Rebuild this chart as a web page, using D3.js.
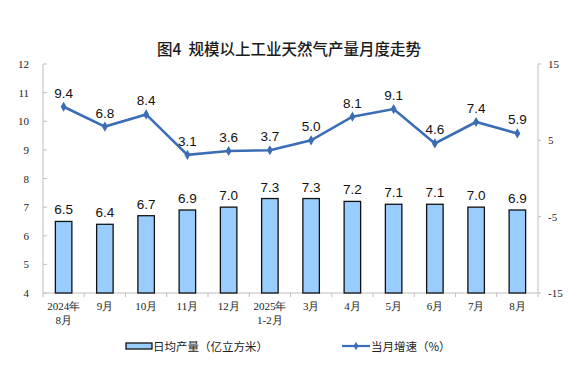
<!DOCTYPE html>
<html><head><meta charset="utf-8">
<script src="https://cdn.jsdelivr.net/npm/d3@7"></script>
<style>body{margin:0;background:#fff}svg{display:block}</style>
</head><body>
<svg id="c" width="579" height="369"></svg>
<script>
const categories = [["2024年","8月"],["9月"],["10月"],["11月"],["12月"],["2025年","1-2月"],["3月"],["4月"],["5月"],["6月"],["7月"],["8月"]];
const dailyOutput = [6.5, 6.4, 6.7, 6.9, 7.0, 7.3, 7.3, 7.2, 7.1, 7.1, 7.0, 6.9];
const growth = [9.4, 6.8, 8.4, 3.1, 3.6, 3.7, 5.0, 8.1, 9.1, 4.6, 7.4, 5.9];
const leftTicks = [4,5,6,7,8,9,10,11,12];
const rightTicks = [-15,-5,5,15];
const title = "图4  规模以上工业天然气产量月度走势";
const legendBar = "日均产量（亿立方米）";
const legendLine = "当月增速（%）";

const svg = d3.select("#c");
const L = 43, R = 538, T = 64, B = 293;
const x = d3.scaleBand().domain(d3.range(categories.length)).range([L, R]);
const yL = d3.scaleLinear().domain([4, 12]).range([B, T]);
const yR = d3.scaleLinear().domain([-15, 15]).range([B, T]);
const axisColor = "#bfbfbf";
const serif = "'Liberation Serif','DejaVu Serif',serif";
const sans = "'Liberation Sans',Arial,'Noto Sans CJK SC',sans-serif";
const cjk = "'Noto Sans CJK SC',sans-serif";

svg.append("text").attr("x", 289).attr("y", 55).attr("text-anchor", "middle")
  .style("white-space", "pre")
  .attr("font-family", cjk).attr("font-size", 15.5).attr("font-weight", 500).attr("fill", "#1a1a1a").text(title);

// axes lines
svg.append("line").attr("x1", L).attr("x2", L).attr("y1", T).attr("y2", B).attr("stroke", axisColor);
svg.append("line").attr("x1", R).attr("x2", R).attr("y1", T).attr("y2", B).attr("stroke", axisColor);
svg.append("line").attr("x1", L).attr("x2", R).attr("y1", B).attr("y2", B).attr("stroke", axisColor);

// left ticks
leftTicks.forEach(v => {
  svg.append("line").attr("x1", L).attr("x2", L + 4).attr("y1", yL(v)).attr("y2", yL(v)).attr("stroke", axisColor);
  svg.append("text").attr("x", 29).attr("y", yL(v) + 4).attr("text-anchor", "end")
    .attr("font-family", serif).attr("font-size", 11).attr("fill", "#222").text(v);
});
rightTicks.forEach(v => {
  svg.append("line").attr("x1", R).attr("x2", R + 3).attr("y1", yR(v)).attr("y2", yR(v)).attr("stroke", axisColor);
  svg.append("text").attr("x", 548).attr("y", yR(v) + 4).attr("text-anchor", "start")
    .attr("font-family", serif).attr("font-size", 11).attr("fill", "#222").text(v);
});
// category boundary ticks
d3.range(categories.length + 1).forEach(i => {
  const xx = L + i * x.step();
  svg.append("line").attr("x1", xx).attr("x2", xx).attr("y1", B).attr("y2", B + 4).attr("stroke", axisColor);
});
categories.forEach((c, i) => {
  const t = svg.append("text").attr("text-anchor", "middle").attr("font-family", serif)
    .attr("font-size", 11).attr("fill", "#222");
  c.forEach((s, j) => t.append("tspan").attr("x", x(i) + x.bandwidth() / 2).attr("y", 310 + j * 13.5).text(s));
});

// bars
const bw = x.bandwidth() * 0.4;
svg.selectAll("rect.bar").data(dailyOutput).enter().append("rect").attr("class", "bar")
  .attr("x", (d, i) => x(i) + (x.bandwidth() - bw) / 2).attr("width", bw)
  .attr("y", d => yL(d)).attr("height", d => B - yL(d))
  .attr("fill", "#99ccff").attr("stroke", "#111").attr("stroke-width", 1.3);
svg.selectAll("text.bl").data(dailyOutput).enter().append("text").attr("class", "bl")
  .attr("x", (d, i) => x(i) + x.bandwidth() / 2).attr("y", d => yL(d) - 7)
  .attr("text-anchor", "middle").attr("font-family", sans).attr("font-size", 13.5).attr("fill", "#111")
  .text(d => d.toFixed(1));

// line
const lineColor = "#3a6db5";
const line = d3.line().x((d, i) => x(i) + x.bandwidth() / 2).y(d => yR(d));
svg.append("path").datum(growth).attr("d", line).attr("fill", "none").attr("stroke", lineColor).attr("stroke-width", 2.6);
svg.selectAll("path.pt").data(growth).enter().append("path").attr("class", "pt")
  .attr("transform", (d, i) => `translate(${x(i) + x.bandwidth() / 2},${yR(d)})`)
  .attr("d", d3.symbol(d3.symbolDiamond, 30)).attr("fill", lineColor);
svg.selectAll("text.ll").data(growth).enter().append("text").attr("class", "ll")
  .attr("x", (d, i) => x(i) + x.bandwidth() / 2).attr("y", d => yR(d) - 9)
  .attr("text-anchor", "middle").attr("font-family", sans).attr("font-size", 13.5).attr("fill", "#111")
  .text(d => d.toFixed(1));

// legend
svg.append("rect").attr("x", 126).attr("y", 343).attr("width", 26).attr("height", 6)
  .attr("fill", "#99ccff").attr("stroke", "#111").attr("stroke-width", 1.3);
svg.append("text").attr("x", 153).attr("y", 351).attr("font-family", cjk).attr("font-size", 11.5).attr("fill", "#222").text(legendBar);
svg.append("line").attr("x1", 342).attr("x2", 370).attr("y1", 346).attr("y2", 346).attr("stroke", lineColor).attr("stroke-width", 2.2);
svg.append("path").attr("transform", "translate(356,346)").attr("d", d3.symbol(d3.symbolDiamond, 20)).attr("fill", lineColor);
svg.append("text").attr("x", 371).attr("y", 351).attr("font-family", cjk).attr("font-size", 11.5).attr("fill", "#222").text(legendLine);
</script>
</body></html>
